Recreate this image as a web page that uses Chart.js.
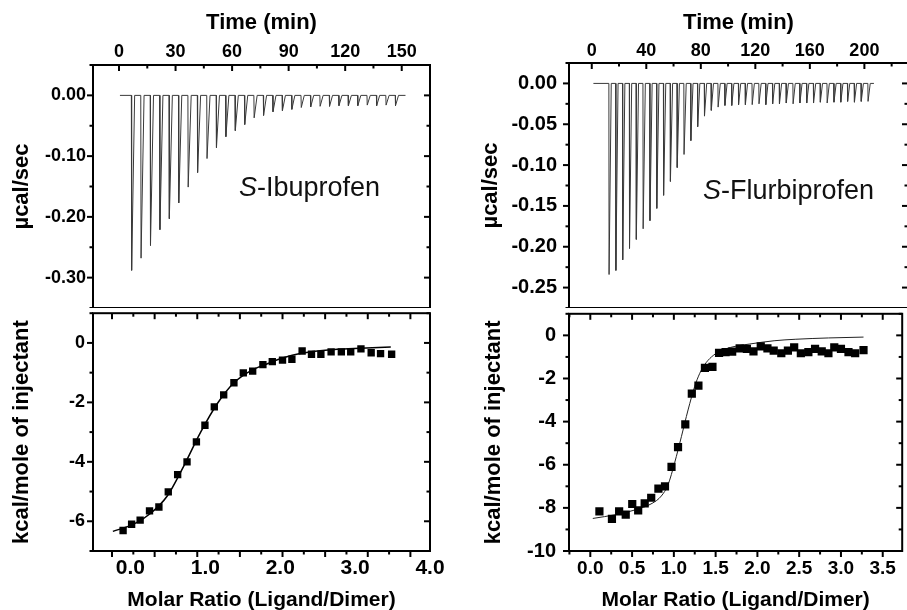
<!DOCTYPE html>
<html>
<head>
<meta charset="utf-8">
<script src="https://cdn.jsdelivr.net/npm/chart.js@4.4.0/dist/chart.umd.min.js"></script>
<style>
  html, body { margin: 0; padding: 0; background: #fff; overflow: hidden; }
  #fig { position: relative; width: 907px; height: 610px; overflow: hidden; }
  #fig canvas { position: absolute; }
  .tag { position: absolute; font: 27px "Liberation Sans", Arial, sans-serif; line-height: 27px; white-space: nowrap; color: #111; }
</style>
</head>
<body>
<div id="fig">
  <canvas id="ibuRaw" width="450" height="308" style="left:0;top:0"></canvas>
  <canvas id="ibuFit" width="450" height="305" style="left:0;top:308px"></canvas>
  <canvas id="fluRaw" width="448" height="308" style="left:460px;top:0"></canvas>
  <canvas id="fluFit" width="448" height="305" style="left:460px;top:308px"></canvas>
  <div class="tag" style="left:239px;top:174px"><i>S</i>-Ibuprofen</div>
  <div class="tag" style="left:703px;top:177px"><i>S</i>-Flurbiprofen</div>
</div>
<script>
Chart.defaults.font.family = '"Liberation Sans", Arial, Helvetica, sans-serif';
Chart.defaults.color = '#000';

// --- S-Ibuprofen ---
const ibuTrace = [0.5, 152]; // first / last minute of the recorded baseline
const ibuInjTime = [6.7, 11.7, 16.7, 21.7, 26.7, 31.7, 36.7, 41.7, 46.7, 51.7, 56.7, 61.7, 66.7, 71.7, 76.7,
  81.7, 86.7, 91.7, 96.7, 101.7, 106.7, 111.7, 116.7, 121.7, 126.7, 131.7, 136.7, 141.7, 146.7];
const ibuPeak = [-0.288, -0.268, -0.247, -0.221, -0.203, -0.177, -0.151, -0.127, -0.104, -0.086, -0.068, -0.058,
  -0.048, -0.037, -0.033, -0.027, -0.025, -0.023, -0.020, -0.019, -0.018, -0.018, -0.017, -0.017, -0.017, -0.016,
  -0.017, -0.016, -0.017];
const ibuRatio = [0.13, 0.23, 0.33, 0.44, 0.55, 0.66, 0.77, 0.88, 0.99, 1.09, 1.20, 1.31, 1.43, 1.54, 1.65,
  1.77, 1.88, 2.00, 2.11, 2.23, 2.34, 2.45, 2.57, 2.69, 2.80, 2.92, 3.04, 3.15, 3.28];
const ibuHeat = [-6.31, -6.10, -5.96, -5.65, -5.52, -5.01, -4.43, -4.00, -3.33, -2.77, -2.15, -1.75, -1.34, -1.01,
  -0.95, -0.73, -0.63, -0.58, -0.55, -0.27, -0.38, -0.38, -0.30, -0.30, -0.30, -0.20, -0.33, -0.36, -0.38];
const ibuFitX = [0.01, 0.26, 0.45, 0.65, 0.84, 1.04, 1.24, 1.43, 1.63, 1.83, 2.02, 2.22, 2.41, 2.61, 2.84, 3.27];
const ibuFitY = [-6.34, -6.09, -5.74, -5.14, -4.15, -3.00, -2.02, -1.34, -0.93, -0.69, -0.49, -0.35, -0.27, -0.22, -0.19, -0.14];
const ibuTimeTicks = [0, 30, 60, 90, 120, 150];
const ibuRawTicks = [0, -0.1, -0.2, -0.3];
const ibuHeatTicks = [0, -2, -4, -6];
const ibuRatioTicks = [0, 1, 2, 3, 4];

// --- S-Flurbiprofen ---
const fluTrace = [1.2, 207];
const fluInjTime = [12.7, 17.7, 22.7, 27.7, 32.7, 37.7, 42.7, 47.7, 52.7, 57.7, 62.7, 67.7, 72.7, 77.7, 82.7,
  87.7, 92.7, 97.7, 102.7, 107.7, 112.7, 117.7, 122.7, 127.7, 132.7, 137.7, 142.7, 147.7, 152.7, 157.7, 162.7,
  167.7, 172.7, 177.7, 182.7, 187.7, 192.7, 197.7, 202.7];
const fluPeak = [-0.234, -0.229, -0.216, -0.202, -0.191, -0.178, -0.168, -0.153, -0.137, -0.120, -0.103, -0.087,
  -0.070, -0.053, -0.040, -0.033, -0.029, -0.027, -0.027, -0.026, -0.026, -0.026, -0.025, -0.026, -0.025, -0.025,
  -0.024, -0.025, -0.024, -0.024, -0.024, -0.023, -0.024, -0.023, -0.023, -0.022, -0.023, -0.022, -0.022];
const fluRatio = [0.109, 0.259, 0.345, 0.424, 0.502, 0.573, 0.651, 0.729, 0.815, 0.894, 0.972, 1.05, 1.137, 1.215,
  1.294, 1.372, 1.462, 1.541, 1.619, 1.698, 1.788, 1.874, 1.953, 2.04, 2.12, 2.195, 2.286, 2.365, 2.44, 2.52,
  2.61, 2.69, 2.77, 2.85, 2.92, 3.0, 3.09, 3.17, 3.27];
const fluHeat = [-8.16, -8.51, -8.16, -8.31, -7.82, -8.12, -7.79, -7.53, -7.11, -7.00, -6.10, -5.18, -4.13, -2.70,
  -2.33, -1.51, -1.46, -0.81, -0.78, -0.75, -0.60, -0.63, -0.74, -0.51, -0.60, -0.71, -0.83, -0.71, -0.56, -0.83,
  -0.78, -0.63, -0.74, -0.83, -0.56, -0.63, -0.78, -0.83, -0.68];
const fluFitX = [0.03, 0.31, 0.54, 0.74, 0.85, 0.93, 1.01, 1.09, 1.17, 1.25, 1.31, 1.37, 1.45, 1.56, 1.72, 1.91,
  2.20, 2.46, 2.85, 3.27];
const fluFitY = [-8.49, -8.31, -8.09, -7.79, -7.45, -6.93, -5.90, -4.70, -3.46, -2.36, -1.76, -1.35, -1.00, -0.72,
  -0.52, -0.40, -0.25, -0.18, -0.12, -0.08];
const fluTimeTicks = [0, 40, 80, 120, 160, 200];
const fluRawTicks = [0, -0.05, -0.1, -0.15, -0.2, -0.25];
const fluHeatTicks = [0, -2, -4, -6, -8, -10];
const fluRatioTicks = [0, 0.5, 1, 1.5, 2, 2.5, 3, 3.5];

// thermogram: flat baseline with a sharp spike at each injection
function trace(range, times, peaks) {
    const pts = [{x: range[0], y: 0}];
    times.forEach((t, i) => {
        pts.push({x: t - 0.15, y: 0}, {x: t, y: peaks[i]}, {x: t + 1.6, y: 0});
    });
    pts.push({x: range[1], y: 0});
    return pts;
}
const zip = (xs, ys) => xs.map((x, i) => ({x, y: ys[i]}));

// box around the plot area plus inward/outward minor+major tick marks
const frame = {
    id: 'frame',
    afterDraw(chart, args, opts) {
        const {ctx, chartArea: a} = chart;
        ctx.save();
        ctx.strokeStyle = '#000';
        ctx.lineWidth = 2;
        ctx.strokeRect(a.left, a.top, a.right - a.left, a.bottom - a.top);
        for (const t of opts.marks) {
            const s = chart.scales[t.scale];
            const n0 = Math.ceil((s.min - 1e-9) / t.step), n1 = Math.floor((s.max + 1e-9) / t.step);
            for (let n = n0; n <= n1; n++) {
                const v = n * t.step;
                const major = Math.abs(v / t.major - Math.round(v / t.major)) < 1e-6;
                const len = (major ? 6 : 3.5) * (t.dir === 'in' ? 1 : -1);
                const p = s.getPixelForValue(v);
                ctx.beginPath();
                if (t.edge === 'top') { ctx.moveTo(p, a.top); ctx.lineTo(p, a.top + len); }
                if (t.edge === 'bottom') { ctx.moveTo(p, a.bottom); ctx.lineTo(p, a.bottom - len); }
                if (t.edge === 'left') { ctx.moveTo(a.left, p); ctx.lineTo(a.left + len, p); }
                if (t.edge === 'right') { ctx.moveTo(a.right, p); ctx.lineTo(a.right - len, p); }
                ctx.stroke();
            }
        }
        ctx.restore();
    }
};

const fixW = w => s => { s.width = w; s.paddingTop = 0; s.paddingBottom = 0; };
const fixH = h => s => { s.height = h; s.paddingLeft = 0; s.paddingRight = 0; };
const setTicks = vals => s => { s.ticks = vals.map(v => ({value: v})); };
const noGrid = {display: false, drawTicks: false};
const bold = size => ({size, weight: 'bold'});

function base(scales, marks, padRight) {
    return {
        responsive: false,
        animation: false,
        devicePixelRatio: 1,
        events: [],
        layout: {padding: {left: 0, top: 0, bottom: 0, right: padRight}},
        plugins: {legend: {display: false}, tooltip: {enabled: false}, frame: {marks}},
        scales
    };
}

// top left: raw heat flow
new Chart(document.getElementById('ibuRaw'), {
    type: 'line',
    data: {datasets: [{data: trace(ibuTrace, ibuInjTime, ibuPeak), borderColor: '#3a3a3a', borderWidth: 1,
        pointRadius: 0, tension: 0}]},
    options: base({
        x: {type: 'linear', position: 'top', min: -13.8, max: 165, afterBuildTicks: setTicks(ibuTimeTicks),
            afterFit: fixH(65), grid: noGrid, border: {display: false},
            ticks: {autoSkip: false, maxRotation: 0, padding: 2, font: bold(18)},
            title: {display: true, text: 'Time (min)', padding: {top: 10, bottom: 0}, font: bold(22)}},
        y: {type: 'linear', min: -0.35, max: 0.05, afterBuildTicks: setTicks(ibuRawTicks), afterFit: fixW(93),
            grid: noGrid, border: {display: false},
            ticks: {autoSkip: false, padding: 7, font: bold(18), callback: v => v.toFixed(2)},
            title: {display: true, text: 'µcal/sec', padding: {top: 9, bottom: 0}, font: bold(22)}}
    }, [
        {scale: 'x', edge: 'top', step: 15, major: 30, dir: 'in'},
        {scale: 'y', edge: 'left', step: 0.05, major: 0.1, dir: 'out'},
        {scale: 'y', edge: 'right', step: 0.05, major: 0.1, dir: 'in'}
    ], 20),
    plugins: [frame]
});

// bottom left: integrated heats
new Chart(document.getElementById('ibuFit'), {
    type: 'scatter',
    data: {datasets: [
        {data: zip(ibuRatio, ibuHeat), pointStyle: 'rect', pointRadius: 5.2, backgroundColor: '#000', borderWidth: 0},
        {data: zip(ibuFitX, ibuFitY), showLine: true, borderColor: '#000', borderWidth: 1.5, pointRadius: 0,
            cubicInterpolationMode: 'monotone'}
    ]},
    options: base({
        x: {type: 'linear', display: false, min: -0.223, max: 3.73},
        xl: {type: 'linear', position: 'bottom', min: -0.5, max: 4.0, afterBuildTicks: setTicks(ibuRatioTicks),
            afterFit: fixH(62), grid: noGrid, border: {display: false},
            ticks: {autoSkip: false, maxRotation: 0, padding: 5, font: bold(21), callback: v => v.toFixed(1)},
            title: {display: true, text: 'Molar Ratio (Ligand/Dimer)', padding: {top: 0, bottom: 0}, font: bold(21)}},
        y: {type: 'linear', min: -7, max: 1, afterBuildTicks: setTicks(ibuHeatTicks), afterFit: fixW(93),
            grid: noGrid, border: {display: false},
            ticks: {autoSkip: false, padding: 8, font: bold(18)},
            title: {display: true, text: 'kcal/mole of injectant', padding: {top: 9, bottom: 0}, font: bold(22)}}
    }, [
        {scale: 'x', edge: 'top', step: 0.25, major: 0.5, dir: 'in'},
        {scale: 'x', edge: 'bottom', step: 0.25, major: 0.5, dir: 'out'},
        {scale: 'y', edge: 'left', step: 1, major: 2, dir: 'out'},
        {scale: 'y', edge: 'right', step: 1, major: 2, dir: 'in'}
    ], 20),
    plugins: [frame]
});

// top right: raw heat flow
new Chart(document.getElementById('fluRaw'), {
    type: 'line',
    data: {datasets: [{data: trace(fluTrace, fluInjTime, fluPeak), borderColor: '#3a3a3a', borderWidth: 1,
        pointRadius: 0, tension: 0}]},
    options: base({
        x: {type: 'linear', position: 'top', min: -16.7, max: 232, afterBuildTicks: setTicks(fluTimeTicks),
            afterFit: fixH(63), grid: noGrid, border: {display: false},
            ticks: {autoSkip: false, maxRotation: 0, padding: 1, font: bold(18)},
            title: {display: true, text: 'Time (min)', padding: {top: 10, bottom: 0}, font: bold(22)}},
        y: {type: 'linear', min: -0.275, max: 0.025, afterBuildTicks: setTicks(fluRawTicks), afterFit: fixW(109),
            grid: noGrid, border: {display: false},
            ticks: {autoSkip: false, padding: 12, font: bold(20), callback: v => v.toFixed(2)},
            title: {display: true, text: 'µcal/sec', padding: {top: 18, bottom: 0}, font: bold(22)}}
    }, [
        {scale: 'x', edge: 'top', step: 20, major: 40, dir: 'in'},
        {scale: 'y', edge: 'left', step: 0.025, major: 0.05, dir: 'out'},
        {scale: 'y', edge: 'right', step: 0.025, major: 0.05, dir: 'in'}
    ], 0),
    plugins: [frame]
});

// bottom right: integrated heats
new Chart(document.getElementById('fluFit'), {
    type: 'scatter',
    data: {datasets: [
        {data: zip(fluRatio, fluHeat), pointStyle: 'rect', pointRadius: 5.8, backgroundColor: '#000', borderWidth: 0},
        {data: zip(fluFitX, fluFitY), showLine: true, borderColor: '#222', borderWidth: 1, pointRadius: 0,
            cubicInterpolationMode: 'monotone'}
    ]},
    options: base({
        x: {type: 'linear', position: 'bottom', min: -0.255, max: 3.733, afterBuildTicks: setTicks(fluRatioTicks),
            afterFit: fixH(62), grid: noGrid, border: {display: false},
            ticks: {autoSkip: false, maxRotation: 0, padding: 6, font: bold(19), callback: v => v.toFixed(1)},
            title: {display: true, text: 'Molar Ratio (Ligand/Dimer)', padding: {top: 0, bottom: 0}, font: bold(21)}},
        y: {type: 'linear', min: -10, max: 1, afterBuildTicks: setTicks(fluHeatTicks), afterFit: fixW(109),
            grid: noGrid, border: {display: false},
            ticks: {autoSkip: false, padding: 13, font: bold(20)},
            title: {display: true, text: 'kcal/mole of injectant', padding: {top: 21, bottom: 0}, font: bold(22)}}
    }, [
        {scale: 'x', edge: 'top', step: 0.25, major: 0.5, dir: 'in'},
        {scale: 'x', edge: 'bottom', step: 0.25, major: 0.5, dir: 'out'},
        {scale: 'y', edge: 'left', step: 1, major: 2, dir: 'out'},
        {scale: 'y', edge: 'right', step: 1, major: 2, dir: 'in'}
    ], 0),
    plugins: [frame]
});
</script>
</body>
</html>
